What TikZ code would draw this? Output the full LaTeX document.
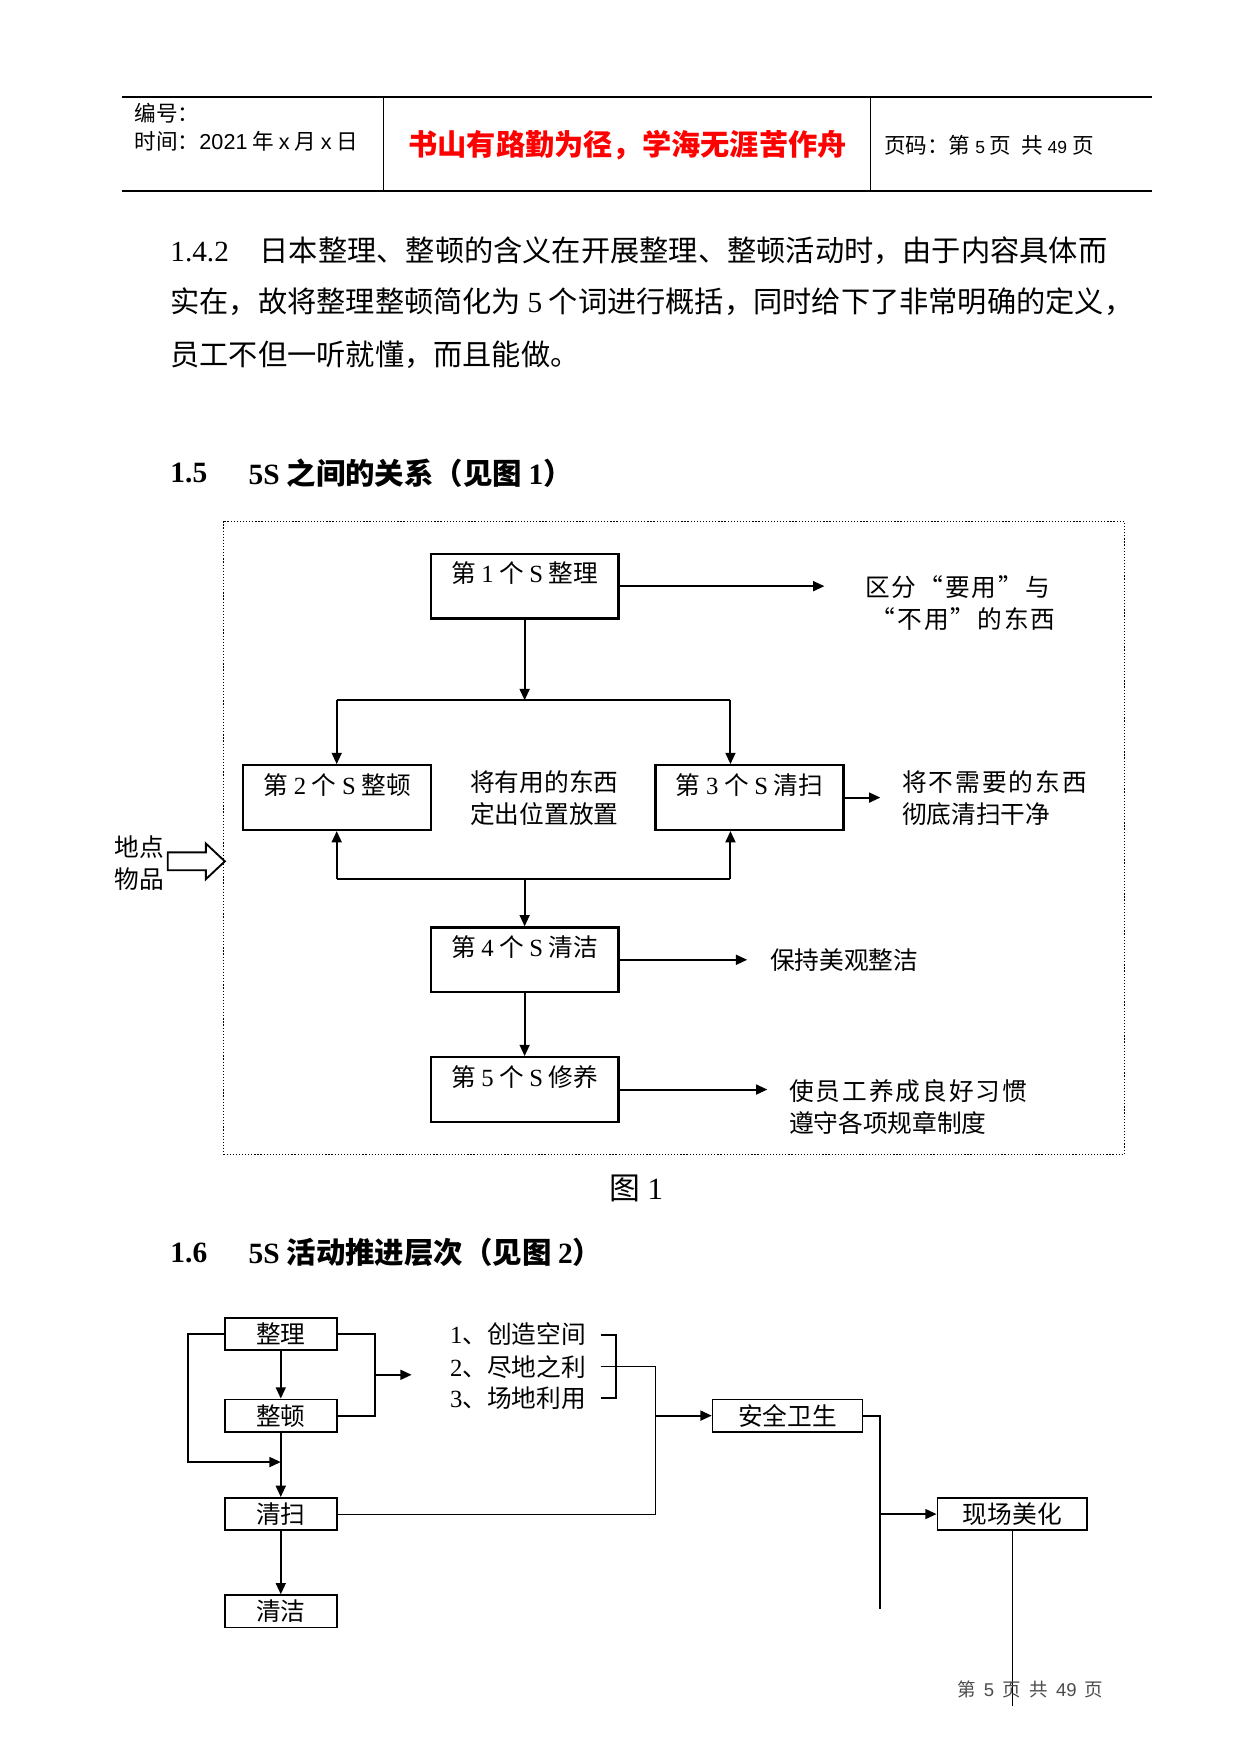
\documentclass[tikz,border=0pt]{standalone}
\usepackage{fontspec}
\setmainfont{Liberation Serif}
\newfontfamily\cjk{Noto Sans CJK SC}
\newfontfamily\cjkwide[LetterSpace=8]{Noto Sans CJK SC}
\newfontfamily\hdsans{Liberation Sans}
\usetikzlibrary{arrows.meta}
\newcommand\lat[1]{{\rmfamily #1}}
\newcommand\sanslat[1]{{\hdsans #1}}
\begin{document}
\begin{tikzpicture}[x=0.0191cm,y=-0.0191cm,
    txt/.style={font=\cjk\fontsize{12}{14}\selectfont, inner sep=0pt, anchor=west},
    widetxt/.style={txt, font=\cjkwide\fontsize{12}{14}\selectfont},
    bodytxt/.style={font=\cjk\fontsize{14.2}{16}\selectfont, inner sep=0pt, anchor=west},
    headtxt/.style={font=\cjk\bfseries\fontsize{14.3}{16}\selectfont, inner sep=0pt, anchor=west},
    sbox/.style={draw, line width=1.1pt, font=\cjk\fontsize{12}{14}\selectfont,
        minimum width=3.21cm, inner sep=0pt, text height=14pt, text depth=17.4pt},
    lbox/.style={draw, line width=0.8pt, font=\cjk\fontsize{12}{14}\selectfont,
        minimum height=0.554cm, inner sep=0pt},
    arr/.style={line width=1pt, -{Triangle[length=5.5pt,width=4.8pt]}},
    thinline/.style={line width=0.5pt}]
\fill[white] (0,0) rectangle (1109,1568);
\useasboundingbox (0,0) rectangle (1109,1568);

% header
\draw[line width=1pt] (109,87) -- (1030,87);
\draw[line width=1pt] (109,171) -- (1030,171);
\draw[thinline] (343,87) -- (343,171);
\draw[thinline] (778,87) -- (778,171);
\node[txt, font=\cjk\fontsize{10.5}{12}\selectfont] (bianhao) at (120,101) {编号：};
\node[txt, font=\cjk\fontsize{10.5}{12}\selectfont] (shijian) at (120,126)
    {时间：\sanslat{2021} 年 \sanslat{x} 月 \sanslat{x} 日};
\node[font=\cjk\bfseries\fontsize{14.2}{16}\selectfont, text=red, inner sep=0pt] (motto) at (561,130)
    {书山有路勤为径，学海无涯苦作舟};
\node[txt, font=\cjk\fontsize{10.5}{12}\selectfont] (yema) at (790,130)
    {页码：第 {\hdsans\fontsize{8.5}{10}\selectfont 5} 页 \ 共 {\hdsans\fontsize{8.5}{10}\selectfont 49} 页};

% body text
\node[bodytxt] (line1) at (152,224) {\lat{1.4.2}\hspace{15pt}日本整理、整顿的含义在开展整理、整顿活动时，由于内容具体而};
\node[bodytxt] (line2) at (152,270) {实在，故将整理整顿简化为 \lat{5} 个词进行概括，同时给下了非常明确的定义，};
\node[bodytxt] (line3) at (152,317) {员工不但一听就懂，而且能做。};

\node[headtxt] (h15) at (152,423) {\lat{1.5}};
\node[headtxt] (h15t) at (222,423) {\lat{5S} 之间的关系（见图 \lat{1}）};

% figure 1
\draw[line width=0.6pt, dash pattern=on 0.6pt off 0.9pt] (200,466) rectangle (1005,1032);

\node[sbox] (s1) at (469,524) {第 \lat{1} 个 \lat{S} 整理};
\node[sbox] (s2) at (301.5,713) {第 \lat{2} 个 \lat{S} 整顿};
\node[sbox] (s3) at (670,713) {第 \lat{3} 个 \lat{S} 清扫};
\node[sbox] (s4) at (469,858) {第 \lat{4} 个 \lat{S} 清洁};
\node[sbox] (s5) at (469,974) {第 \lat{5} 个 \lat{S} 修养};

\coordinate (t1) at (737,524);
\coordinate (t3) at (787,713);
\coordinate (t4) at (668,858);
\coordinate (t5) at (686,974);
\coordinate (topm) at (469,626);
\coordinate (topl) at (301,626);
\coordinate (topr) at (653,626);
\coordinate (botm) at (469,786);
\coordinate (botl) at (301,786);
\coordinate (botr) at (653,786);

\draw[arr] (s1.east |- t1) -- (t1);
\draw[arr] (s1.south) -- (topm);
\draw[line width=1pt] (topl) -- (topr);
\draw[arr] (topl) -- (topl |- s2.north);
\draw[arr] (topr) -- (topr |- s3.north);
\draw[arr] (s3.east) -- (t3);
\draw[line width=1pt] (botl) -- (botr);
\draw[arr] (botl) -- (botl |- s2.south);
\draw[arr] (botr) -- (botr |- s3.south);
\draw[arr] (botm) -- (s4.north);
\draw[arr] (s4.east) -- (t4);
\draw[arr] (s4.south) -- (s5.north);
\draw[arr] (s5.east) -- (t5);

\node[widetxt] (d1a) at (773,525) {区分“要用”与};
\node[widetxt] (d1b) at (778,553) {“不用”的东西};
\node[txt] (d2a) at (420,699) {将有用的东西};
\node[txt] (d2b) at (420,728) {定出位置放置};
\node[widetxt] (d3a) at (806,699) {将不需要的东西};
\node[txt] (d3b) at (806,728) {彻底清扫干净};
\node[txt] (d4) at (688,858) {保持美观整洁};
\node[widetxt] (d5a) at (705,975) {使员工养成良好习惯};
\node[txt] (d5b) at (705,1004) {遵守各项规章制度};

\node[txt] (didian) at (102,757) {地点};
\node[txt] (wupin) at (102,786) {物品};
\draw[line width=0.9pt] (150,762) -- (184,762) -- (184,754) -- (201,770)
    -- (184,786) -- (184,778) -- (150,778) -- cycle;

\node[font=\cjk\fontsize{15}{17}\selectfont, inner sep=0pt] (fig1) at (569,1062) {图 \lat{1}};

\node[headtxt] (h16) at (152,1120) {\lat{1.6}};
\node[headtxt] (h16t) at (222,1120) {\lat{5S} 活动推进层次（见图 \lat{2}）};

% figure 2
\node[lbox, minimum width=1.91cm] (zhengli) at (251,1192.5) {整理};
\node[lbox, minimum width=1.91cm] (zhengdun) at (251,1265.5) {整顿};
\node[lbox, minimum width=1.91cm] (qingsao) at (251,1353.5) {清扫};
\node[lbox, minimum width=1.91cm] (qingjie) at (251,1440.5) {清洁};
\node[lbox, minimum width=2.56cm] (anquan) at (704,1265.5) {安全卫生};
\node[lbox, minimum width=2.56cm] (xianchang) at (905,1353.5) {现场美化};

\node[txt] (li1) at (402,1193) {\lat{1}、创造空间};
\node[txt] (li2) at (402,1222) {\lat{2}、尽地之利};
\node[txt] (li3) at (402,1250) {\lat{3}、场地利用};

\coordinate (loop) at (168,1307);
\coordinate (rbr) at (335,1229);
\coordinate (lst) at (368,1229);
\coordinate (br1) at (537,1193);
\coordinate (br2) at (537,1222);
\coordinate (br3) at (537,1250);
\coordinate (jn) at (586,1265.5);
\coordinate (vend) at (787,1438);
\coordinate (foot) at (905,1525);

\draw[arr] (zhengli.south) -- (zhengdun.north);
\draw[arr] (zhengdun.south) -- (qingsao.north);
\draw[arr] (qingsao.south) -- (qingjie.north);
\draw[arr] (zhengli.west) -| (loop) -- (loop -| zhengdun.south);
\draw[line width=1pt] (zhengli.east) -| (rbr) |- (zhengdun.east);
\draw[arr] (rbr) -- (lst);
\draw[line width=1pt] (br1) -- ++(14,0) |- (br3);
\draw[thinline] (br2) -| (jn |- qingsao.east) -- (qingsao.east);
\draw[arr] (jn) -- (anquan.west);
\draw[line width=1pt] (anquan.east) -| (vend);
\draw[arr] (vend |- xianchang.west) -- (xianchang.west);
\draw[thinline] (xianchang.south) -- (foot);

% footer
\node[font=\cjk\fontsize{9}{11}\selectfont, text=black!70, inner sep=0pt] (footer) at (921,1510)
    {第 \ \sanslat{5} \ 页 \ 共 \ \sanslat{49} \ 页};
\end{tikzpicture}
\end{document}
